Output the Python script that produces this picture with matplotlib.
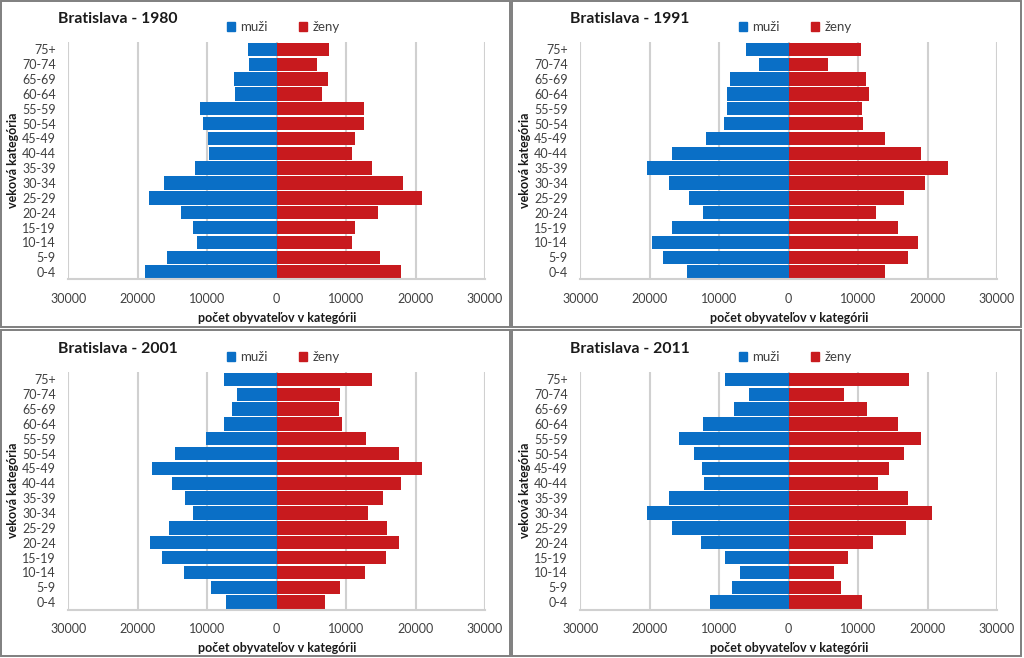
import matplotlib
matplotlib.use("Agg")
import matplotlib.pyplot as plt
from matplotlib.patches import Rectangle, Patch
from matplotlib.ticker import FuncFormatter, MultipleLocator

plt.rcParams['font.family'] = ['Lato', 'DejaVu Sans']

categories = ["0-4", "5-9", "10-14", "15-19", "20-24", "25-29", "30-34", "35-39",
              "40-44", "45-49", "50-54", "55-59", "60-64", "65-69", "70-74", "75+"]

years = ["1980", "1991", "2001", "2011"]

men_1980 = [18990, 15720, 11540, 12020, 13800, 18370, 16200, 11780,
            9760, 9860, 10580, 11060, 6010, 6150, 3940, 4090]
women_1980 = [17840, 14860, 10910, 11300, 14660, 20870, 18130, 13700,
              10910, 11300, 12600, 12600, 6590, 7360, 5770, 7600]

men_1991 = [14570, 18030, 19710, 16730, 12360, 14420, 17210, 20430,
            16830, 11870, 9280, 8890, 8890, 8410, 4330, 6110]
women_1991 = [13940, 17160, 18610, 15720, 12640, 16590, 19570, 22930,
              19090, 13850, 10720, 10580, 11540, 11150, 5630, 10480]

men_2001 = [7360, 9520, 13370, 16490, 18170, 15480, 12020, 13170,
            15050, 17880, 14660, 10190, 7600, 6490, 5770, 7550]
women_2001 = [6970, 9130, 12740, 15720, 17550, 15820, 13130, 15380,
              17930, 20910, 17550, 12880, 9470, 8990, 9180, 13800]

men_2011 = [11390, 8170, 6970, 9130, 12640, 16830, 20430, 17160,
            12120, 12500, 13560, 15720, 12360, 7930, 5720, 9130]
women_2011 = [10580, 7600, 6490, 8560, 12120, 16920, 20670, 17210,
              12880, 14420, 16590, 19090, 15720, 11300, 7930, 17310]

men = [men_1980, men_1991, men_2001, men_2011]
women = [women_1980, women_1991, women_2001, women_2011]

BLUE = "#0A6FC6"
RED = "#C81A1E"
GRID = "#D0D0D0"
TXT = "#404040"

W, H = 1024, 658
fig = plt.figure(figsize=(W / 100, H / 100), dpi=100)
fig.patch.set_facecolor("white")


def fx(px):
    return px / W


def fy(py):
    return 1 - py / H


offsets = [(0, 0), (512, 0), (0, 330), (512, 330)]
borders = [(1, 1, 510, 327), (512, 1, 1021, 327), (1, 330, 510, 656), (512, 330, 1021, 656)]

for (x0, y0, x1, y1) in borders:
    fig.patches.append(Rectangle((fx(x0), fy(y1)), fx(x1 - x0), (y1 - y0) / H,
                                 transform=fig.transFigure, fill=False,
                                 edgecolor="#7F7F7F", linewidth=1.4, zorder=0))

for i, (dx, dy) in enumerate(offsets):
    left_px, right_px = 68.3 + dx, 485 + dx
    top_px, bot_px = 42 + dy, 279.5 + dy
    ax = fig.add_axes([fx(left_px), fy(bot_px), fx(right_px - left_px), (bot_px - top_px) / H])
    ypos = list(range(len(categories)))
    ax.barh(ypos, [-v for v in men[i]], height=0.9, color=BLUE, label="muži", zorder=2)
    ax.barh(ypos, women[i], height=0.9, color=RED, label="ženy", zorder=2)
    ax.set_xlim(-30000, 30000)
    ax.set_ylim(-0.5, len(categories) - 0.5)
    ax.xaxis.set_major_locator(MultipleLocator(10000))
    ax.xaxis.set_major_formatter(FuncFormatter(lambda v, p: f"{abs(int(round(v)))}"))
    ax.grid(axis="x", color=GRID, linewidth=1.5, zorder=0)
    ax.set_axisbelow(True)
    for s in ["left", "right", "top"]:
        ax.spines[s].set_visible(False)
    ax.spines["bottom"].set_color(GRID)
    ax.spines["bottom"].set_linewidth(1.5)
    ax.set_yticks(ypos)
    ax.set_yticklabels(categories)
    ax.tick_params(axis="both", length=0, labelsize=9, colors=TXT)
    ax.tick_params(axis="x", pad=10)
    ax.tick_params(axis="y", pad=9)
    ax.patch.set_alpha(0)

    fig.text(fx(58 + dx), fy(19 + dy), f"Bratislava - {years[i]}", fontsize=11.3,
             fontweight="bold", color="#1a1a1a", ha="left", va="center")
    fig.text(fx(13 + dx), fy(160 + dy), "veková kategória", rotation=90, fontsize=9,
             fontweight="bold", color="#1a1a1a", ha="center", va="center")
    fig.text(fx(277 + dx), fy(318 + dy), "počet obyvateľov v kategórii", fontsize=9,
             fontweight="bold", color="#1a1a1a", ha="center", va="center")
    handles = [Patch(color=BLUE, label="muži"), Patch(color=RED, label="ženy")]
    fig.legend(handles=handles, loc="center", ncol=2, frameon=False,
               bbox_to_anchor=(fx(283 + dx), fy(27 + dy)), fontsize=9.5,
               handlelength=0.6, handleheight=0.6, handletextpad=0.4,
               columnspacing=2.4, labelcolor=TXT)

fig.savefig("out.png", dpi=100)
